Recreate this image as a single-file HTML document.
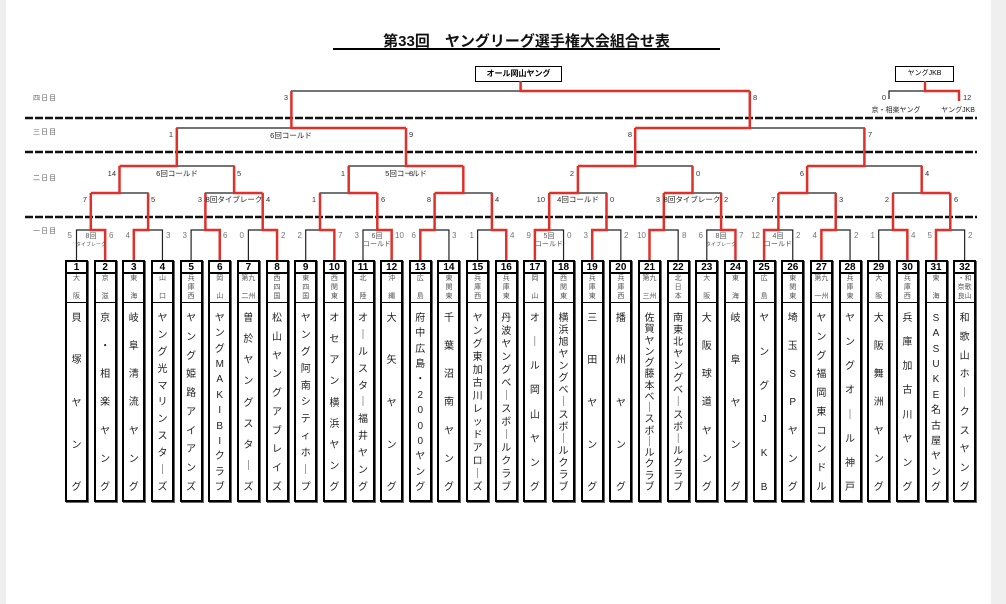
<!DOCTYPE html>
<html><head><meta charset="utf-8">
<style>
html,body{margin:0;padding:0}
body{width:1006px;height:604px;background:#fff;position:relative;overflow:hidden;font-family:"Liberation Sans","Noto Sans CJK JP",sans-serif}
.gl{position:absolute;top:0;left:0;width:6px;height:604px;background:#efefef}
.gr{position:absolute;top:0;right:0;width:15px;height:604px;background:#efefef}
svg{position:absolute;left:0;top:0}
.b{position:absolute;top:260px;width:19px;height:238px;border:2px solid #000;box-shadow:1px 1px 0 #666;background:#fff}
.n{height:10px;border-bottom:2px solid #000;font-size:10px;font-weight:bold;line-height:11px;text-align:center}
.r{height:29px;border-bottom:1.5px solid #000;display:flex;flex-direction:column;justify-content:space-between;align-items:center;font-size:7px;line-height:8px;color:#555;padding:1px 0;box-sizing:border-box}
.t{height:196px;display:flex;flex-direction:column;justify-content:space-between;align-items:center;font-size:10px;line-height:11px;color:#222;padding:10px 0 6px;box-sizing:border-box}
.t i,.r i{font-style:normal;display:block}
.day{position:absolute;left:33px;font-size:7px;color:#666;letter-spacing:1px}
</style></head><body>
<div class="gl"></div><div class="gr"></div>
<div style="position:absolute;left:333px;top:30px;width:387px;text-align:center;font-size:15px;color:#111;font-weight:bold">第33回　ヤングリーグ選手権大会組合せ表</div>
<div style="position:absolute;left:333px;top:48px;width:387px;height:2px;background:#000"></div>
<div style="position:absolute;left:475px;top:66px;width:85px;height:14px;border:1px solid #000;font-size:8px;line-height:14px;text-align:center;font-weight:bold">オール岡山ヤング</div>
<div style="position:absolute;left:895px;top:66px;width:57px;height:14px;border:1px solid #000;font-size:7px;line-height:14px;text-align:center">ヤングJKB</div>
<div class="day" style="top:93px">四日目</div>
<div class="day" style="top:127px">三日目</div>
<div class="day" style="top:173px">二日目</div>
<div class="day" style="top:226px">一日目</div>
<svg width="1006" height="604" font-family="Liberation Sans, Noto Sans CJK JP, sans-serif">
<g stroke="#111" stroke-width="2.5" stroke-dasharray="8 2">
<line x1="25" y1="118" x2="977" y2="118"/><line x1="25" y1="152" x2="977" y2="152"/><line x1="25" y1="217" x2="977" y2="217"/>
</g>
<g fill="none" stroke="#222" stroke-width="1.2">
<polyline points="76.5,260 76.5,230 90.8,230"/>
<polyline points="162.45,260 162.45,230 148.1,230"/>
<polyline points="191.1,260 191.1,230 205.4,230"/>
<polyline points="248.4,260 248.4,230 262.7,230"/>
<polyline points="305.7,260 305.7,230 320,230"/>
<polyline points="363,260 363,230 377.3,230"/>
<polyline points="448.95,260 448.95,230 434.6,230"/>
<polyline points="477.6,260 477.6,230 491.9,230"/>
<polyline points="563.55,260 563.55,230 549.2,230"/>
<polyline points="620.85,260 620.85,230 606.5,230"/>
<polyline points="678.15,260 678.15,230 663.8,230"/>
<polyline points="706.8,260 706.8,230 721.1,230"/>
<polyline points="792.75,260 792.75,230 778.4,230"/>
<polyline points="850.05,260 850.05,230 835.7,230"/>
<polyline points="878.7,260 878.7,230 893,230"/>
<polyline points="964.65,260 964.65,230 950.3,230"/>
<polyline points="148.1,230 148.1,193 119.5,193"/>
<polyline points="205.4,230 205.4,193 234.1,193"/>
<polyline points="320,230 320,193 348.7,193"/>
<polyline points="491.9,230 491.9,193 463.3,193"/>
<polyline points="606.5,230 606.5,193 577.9,193"/>
<polyline points="721.1,230 721.1,193 692.5,193"/>
<polyline points="835.7,230 835.7,193 807.1,193"/>
<polyline points="893,230 893,193 921.7,193"/>
<polyline points="234.1,193 234.1,166 176.8,166"/>
<polyline points="348.7,193 348.7,166 406,166"/>
<polyline points="692.5,193 692.5,166 635.2,166"/>
<polyline points="921.7,193 921.7,166 864.4,166"/>
<polyline points="176.8,166 176.8,128 291.4,128"/>
<polyline points="864.4,166 864.4,128 749.8,128"/>
<polyline points="291.4,128 291.4,91 520.6,91"/>
<polyline points="889,99 889,91 925,91"/>
</g>
<g fill="none" stroke="#e0302a" stroke-width="2.5">
<polyline points="105.15,260 105.15,230 90.8,230 90.8,193"/>
<polyline points="133.8,260 133.8,230 148.1,230 148.1,193"/>
<polyline points="219.75,260 219.75,230 205.4,230 205.4,193"/>
<polyline points="277.05,260 277.05,230 262.7,230 262.7,193"/>
<polyline points="334.35,260 334.35,230 320,230 320,193"/>
<polyline points="391.65,260 391.65,230 377.3,230 377.3,193"/>
<polyline points="420.3,260 420.3,230 434.6,230 434.6,193"/>
<polyline points="506.25,260 506.25,230 491.9,230 491.9,193"/>
<polyline points="534.9,260 534.9,230 549.2,230 549.2,193"/>
<polyline points="592.2,260 592.2,230 606.5,230 606.5,193"/>
<polyline points="649.5,260 649.5,230 663.8,230 663.8,193"/>
<polyline points="735.45,260 735.45,230 721.1,230 721.1,193"/>
<polyline points="764.1,260 764.1,230 778.4,230 778.4,193"/>
<polyline points="821.4,260 821.4,230 835.7,230 835.7,193"/>
<polyline points="907.35,260 907.35,230 893,230 893,193"/>
<polyline points="936,260 936,230 950.3,230 950.3,193"/>
<polyline points="90.8,193 119.5,193 119.5,166"/>
<polyline points="262.7,193 234.1,193 234.1,166"/>
<polyline points="377.3,193 348.7,193 348.7,166"/>
<polyline points="434.6,193 463.3,193 463.3,166"/>
<polyline points="549.2,193 577.9,193 577.9,166"/>
<polyline points="663.8,193 692.5,193 692.5,166"/>
<polyline points="778.4,193 807.1,193 807.1,166"/>
<polyline points="950.3,193 921.7,193 921.7,166"/>
<polyline points="119.5,166 176.8,166 176.8,128"/>
<polyline points="463.3,166 406,166 406,128"/>
<polyline points="577.9,166 635.2,166 635.2,128"/>
<polyline points="807.1,166 864.4,166 864.4,128"/>
<polyline points="406,128 291.4,128 291.4,91"/>
<polyline points="635.2,128 749.8,128 749.8,91"/>
<polyline points="749.8,91 520.6,91 520.6,81"/>
<polyline points="959,101 959,91 925,91 925,81"/>
</g>
<g font-size="8" fill="#777">
<text x="72" y="238" text-anchor="end">5</text><text x="109" y="238">6</text>
<text x="130" y="238" text-anchor="end">4</text><text x="166" y="238">3</text>
<text x="187" y="238" text-anchor="end">3</text><text x="223" y="238">6</text>
<text x="244" y="238" text-anchor="end">0</text><text x="281" y="238">2</text>
<text x="302" y="238" text-anchor="end">2</text><text x="338" y="238">7</text>
<text x="359" y="238" text-anchor="end">3</text><text x="395" y="238">10</text>
<text x="416" y="238" text-anchor="end">6</text><text x="452" y="238">3</text>
<text x="474" y="238" text-anchor="end">1</text><text x="510" y="238">4</text>
<text x="531" y="238" text-anchor="end">9</text><text x="567" y="238">0</text>
<text x="588" y="238" text-anchor="end">3</text><text x="624" y="238">2</text>
<text x="646" y="238" text-anchor="end">10</text><text x="682" y="238">8</text>
<text x="703" y="238" text-anchor="end">6</text><text x="739" y="238">7</text>
<text x="760" y="238" text-anchor="end">12</text><text x="796" y="238">2</text>
<text x="817" y="238" text-anchor="end">4</text><text x="854" y="238">2</text>
<text x="875" y="238" text-anchor="end">1</text><text x="911" y="238">4</text>
<text x="932" y="238" text-anchor="end">5</text><text x="968" y="238">2</text>
</g>
<g font-size="7" fill="#555" text-anchor="middle">
<text x="91" y="238">8回</text><text x="91" y="246" font-size="5">タイブレーク</text>
<text x="377" y="238">6回</text><text x="377" y="246">コールド</text>
<text x="549" y="238">5回</text><text x="549" y="246">コールド</text>
<text x="721" y="238">8回</text><text x="721" y="246" font-size="5">タイブレーク</text>
<text x="778" y="238">4回</text><text x="778" y="246">コールド</text>
</g>
<g font-size="7.5" fill="#333">
<text x="87" y="202" text-anchor="end">7</text><text x="151" y="202">5</text>
<text x="202" y="202" text-anchor="end">3</text><text x="266" y="202">4</text>
<text x="316" y="202" text-anchor="end">1</text><text x="381" y="202">6</text>
<text x="431" y="202" text-anchor="end">8</text><text x="495" y="202">4</text>
<text x="545" y="202" text-anchor="end">10</text><text x="610" y="202">0</text>
<text x="660" y="202" text-anchor="end">3</text><text x="724" y="202">2</text>
<text x="775" y="202" text-anchor="end">7</text><text x="839" y="202">3</text>
<text x="889" y="202" text-anchor="end">2</text><text x="954" y="202">6</text>
<text x="116" y="176" text-anchor="end">14</text><text x="237" y="176">5</text>
<text x="345" y="176" text-anchor="end">1</text><text x="409" y="176">8</text>
<text x="574" y="176" text-anchor="end">2</text><text x="696" y="176">0</text>
<text x="804" y="176" text-anchor="end">6</text><text x="925" y="176">4</text>
<text x="173" y="137" text-anchor="end">1</text><text x="409" y="137">9</text>
<text x="632" y="137" text-anchor="end">8</text><text x="868" y="137">7</text>
<text x="288" y="100" text-anchor="end">3</text><text x="753" y="100">8</text>
<text x="886" y="100" text-anchor="end">0</text><text x="963" y="100">12</text>
</g>
<g font-size="7.5" fill="#222" text-anchor="middle">
<text x="234" y="202">8回タイブレーク</text>
<text x="578" y="202">4回コールド</text>
<text x="692" y="202">8回タイブレーク</text>
<text x="177" y="176">6回コールド</text>
<text x="406" y="176">5回コールド</text>
<text x="291" y="138">6回コールド</text>
<text x="896" y="112" font-size="7">京・相楽ヤング</text>
<text x="958" y="112" font-size="7">ヤングJKB</text>
</g>
</svg>

<div class="b" style="left:65px"><div class="n">1</div><div class="r"><i>大</i><i>阪</i></div><div class="t"><i>貝</i><i>塚</i><i>ヤ</i><i>ン</i><i>グ</i></div></div>
<div class="b" style="left:93.65px"><div class="n">2</div><div class="r"><i>京</i><i>滋</i></div><div class="t"><i>京</i><i>・</i><i>相</i><i>楽</i><i>ヤ</i><i>ン</i><i>グ</i></div></div>
<div class="b" style="left:122.3px"><div class="n">3</div><div class="r"><i>東</i><i>海</i></div><div class="t"><i>岐</i><i>阜</i><i>清</i><i>流</i><i>ヤ</i><i>ン</i><i>グ</i></div></div>
<div class="b" style="left:150.95px"><div class="n">4</div><div class="r"><i>山</i><i>口</i></div><div class="t"><i>ヤ</i><i>ン</i><i>グ</i><i>光</i><i>マ</i><i>リ</i><i>ン</i><i>ス</i><i>タ</i><i>｜</i><i>ズ</i></div></div>
<div class="b" style="left:179.6px"><div class="n">5</div><div class="r"><i>兵</i><i>庫</i><i>西</i></div><div class="t"><i>ヤ</i><i>ン</i><i>グ</i><i>姫</i><i>路</i><i>ア</i><i>イ</i><i>ア</i><i>ン</i><i>ズ</i></div></div>
<div class="b" style="left:208.25px"><div class="n">6</div><div class="r"><i>岡</i><i>山</i></div><div class="t"><i>ヤ</i><i>ン</i><i>グ</i><i>M</i><i>A</i><i>K</i><i>I</i><i>B</i><i>I</i><i>ク</i><i>ラ</i><i>ブ</i></div></div>
<div class="b" style="left:236.9px"><div class="n">7</div><div class="r"><i>第九</i><i>二州</i></div><div class="t"><i>曽</i><i>於</i><i>ヤ</i><i>ン</i><i>グ</i><i>ス</i><i>タ</i><i>｜</i><i>ズ</i></div></div>
<div class="b" style="left:265.55px"><div class="n">8</div><div class="r"><i>西</i><i>四</i><i>国</i></div><div class="t"><i>松</i><i>山</i><i>ヤ</i><i>ン</i><i>グ</i><i>ア</i><i>ブ</i><i>レ</i><i>イ</i><i>ズ</i></div></div>
<div class="b" style="left:294.2px"><div class="n">9</div><div class="r"><i>東</i><i>四</i><i>国</i></div><div class="t"><i>ヤ</i><i>ン</i><i>グ</i><i>阿</i><i>南</i><i>シ</i><i>テ</i><i>ィ</i><i>ホ</i><i>｜</i><i>プ</i></div></div>
<div class="b" style="left:322.85px"><div class="n">10</div><div class="r"><i>西</i><i>関</i><i>東</i></div><div class="t"><i>オ</i><i>セ</i><i>ア</i><i>ン</i><i>横</i><i>浜</i><i>ヤ</i><i>ン</i><i>グ</i></div></div>
<div class="b" style="left:351.5px"><div class="n">11</div><div class="r"><i>北</i><i>陸</i></div><div class="t"><i>オ</i><i>｜</i><i>ル</i><i>ス</i><i>タ</i><i>｜</i><i>福</i><i>井</i><i>ヤ</i><i>ン</i><i>グ</i></div></div>
<div class="b" style="left:380.15px"><div class="n">12</div><div class="r"><i>沖</i><i>縄</i></div><div class="t"><i>大</i><i>矢</i><i>ヤ</i><i>ン</i><i>グ</i></div></div>
<div class="b" style="left:408.8px"><div class="n">13</div><div class="r"><i>広</i><i>島</i></div><div class="t"><i>府</i><i>中</i><i>広</i><i>島</i><i>・</i><i>2</i><i>0</i><i>0</i><i>0</i><i>ヤ</i><i>ン</i><i>グ</i></div></div>
<div class="b" style="left:437.45px"><div class="n">14</div><div class="r"><i>東</i><i>関</i><i>東</i></div><div class="t"><i>千</i><i>葉</i><i>沼</i><i>南</i><i>ヤ</i><i>ン</i><i>グ</i></div></div>
<div class="b" style="left:466.1px"><div class="n">15</div><div class="r"><i>兵</i><i>庫</i><i>西</i></div><div class="t"><i>ヤ</i><i>ン</i><i>グ</i><i>東</i><i>加</i><i>古</i><i>川</i><i>レ</i><i>ッ</i><i>ド</i><i>ア</i><i>ロ</i><i>｜</i><i>ズ</i></div></div>
<div class="b" style="left:494.75px"><div class="n">16</div><div class="r"><i>兵</i><i>庫</i><i>東</i></div><div class="t"><i>丹</i><i>波</i><i>ヤ</i><i>ン</i><i>グ</i><i>ベ</i><i>｜</i><i>ス</i><i>ボ</i><i>｜</i><i>ル</i><i>ク</i><i>ラ</i><i>ブ</i></div></div>
<div class="b" style="left:523.4px"><div class="n">17</div><div class="r"><i>岡</i><i>山</i></div><div class="t"><i>オ</i><i>｜</i><i>ル</i><i>岡</i><i>山</i><i>ヤ</i><i>ン</i><i>グ</i></div></div>
<div class="b" style="left:552.05px"><div class="n">18</div><div class="r"><i>西</i><i>関</i><i>東</i></div><div class="t"><i>横</i><i>浜</i><i>旭</i><i>ヤ</i><i>ン</i><i>グ</i><i>ベ</i><i>｜</i><i>ス</i><i>ボ</i><i>｜</i><i>ル</i><i>ク</i><i>ラ</i><i>ブ</i></div></div>
<div class="b" style="left:580.7px"><div class="n">19</div><div class="r"><i>兵</i><i>庫</i><i>東</i></div><div class="t"><i>三</i><i>田</i><i>ヤ</i><i>ン</i><i>グ</i></div></div>
<div class="b" style="left:609.35px"><div class="n">20</div><div class="r"><i>兵</i><i>庫</i><i>西</i></div><div class="t"><i>播</i><i>州</i><i>ヤ</i><i>ン</i><i>グ</i></div></div>
<div class="b" style="left:638px"><div class="n">21</div><div class="r"><i>第九</i><i>三州</i></div><div class="t"><i>佐</i><i>賀</i><i>ヤ</i><i>ン</i><i>グ</i><i>藤</i><i>本</i><i>ベ</i><i>｜</i><i>ス</i><i>ボ</i><i>｜</i><i>ル</i><i>ク</i><i>ラ</i><i>ブ</i></div></div>
<div class="b" style="left:666.65px"><div class="n">22</div><div class="r"><i>北</i><i>日</i><i>本</i></div><div class="t"><i>南</i><i>東</i><i>北</i><i>ヤ</i><i>ン</i><i>グ</i><i>ベ</i><i>｜</i><i>ス</i><i>ボ</i><i>｜</i><i>ル</i><i>ク</i><i>ラ</i><i>ブ</i></div></div>
<div class="b" style="left:695.3px"><div class="n">23</div><div class="r"><i>大</i><i>阪</i></div><div class="t"><i>大</i><i>阪</i><i>球</i><i>道</i><i>ヤ</i><i>ン</i><i>グ</i></div></div>
<div class="b" style="left:723.95px"><div class="n">24</div><div class="r"><i>東</i><i>海</i></div><div class="t"><i>岐</i><i>阜</i><i>ヤ</i><i>ン</i><i>グ</i></div></div>
<div class="b" style="left:752.6px"><div class="n">25</div><div class="r"><i>広</i><i>島</i></div><div class="t"><i>ヤ</i><i>ン</i><i>グ</i><i>J</i><i>K</i><i>B</i></div></div>
<div class="b" style="left:781.25px"><div class="n">26</div><div class="r"><i>東</i><i>関</i><i>東</i></div><div class="t"><i>埼</i><i>玉</i><i>S</i><i>P</i><i>ヤ</i><i>ン</i><i>グ</i></div></div>
<div class="b" style="left:809.9px"><div class="n">27</div><div class="r"><i>第九</i><i>一州</i></div><div class="t"><i>ヤ</i><i>ン</i><i>グ</i><i>福</i><i>岡</i><i>東</i><i>コ</i><i>ン</i><i>ド</i><i>ル</i></div></div>
<div class="b" style="left:838.55px"><div class="n">28</div><div class="r"><i>兵</i><i>庫</i><i>東</i></div><div class="t"><i>ヤ</i><i>ン</i><i>グ</i><i>オ</i><i>｜</i><i>ル</i><i>神</i><i>戸</i></div></div>
<div class="b" style="left:867.2px"><div class="n">29</div><div class="r"><i>大</i><i>阪</i></div><div class="t"><i>大</i><i>阪</i><i>舞</i><i>洲</i><i>ヤ</i><i>ン</i><i>グ</i></div></div>
<div class="b" style="left:895.85px"><div class="n">30</div><div class="r"><i>兵</i><i>庫</i><i>西</i></div><div class="t"><i>兵</i><i>庫</i><i>加</i><i>古</i><i>川</i><i>ヤ</i><i>ン</i><i>グ</i></div></div>
<div class="b" style="left:924.5px"><div class="n">31</div><div class="r"><i>東</i><i>海</i></div><div class="t"><i>S</i><i>A</i><i>S</i><i>U</i><i>K</i><i>E</i><i>名</i><i>古</i><i>屋</i><i>ヤ</i><i>ン</i><i>グ</i></div></div>
<div class="b" style="left:953.15px"><div class="n">32</div><div class="r"><i>・和</i><i>奈歌</i><i>良山</i></div><div class="t"><i>和</i><i>歌</i><i>山</i><i>ホ</i><i>｜</i><i>ク</i><i>ス</i><i>ヤ</i><i>ン</i><i>グ</i></div></div>
</body></html>
